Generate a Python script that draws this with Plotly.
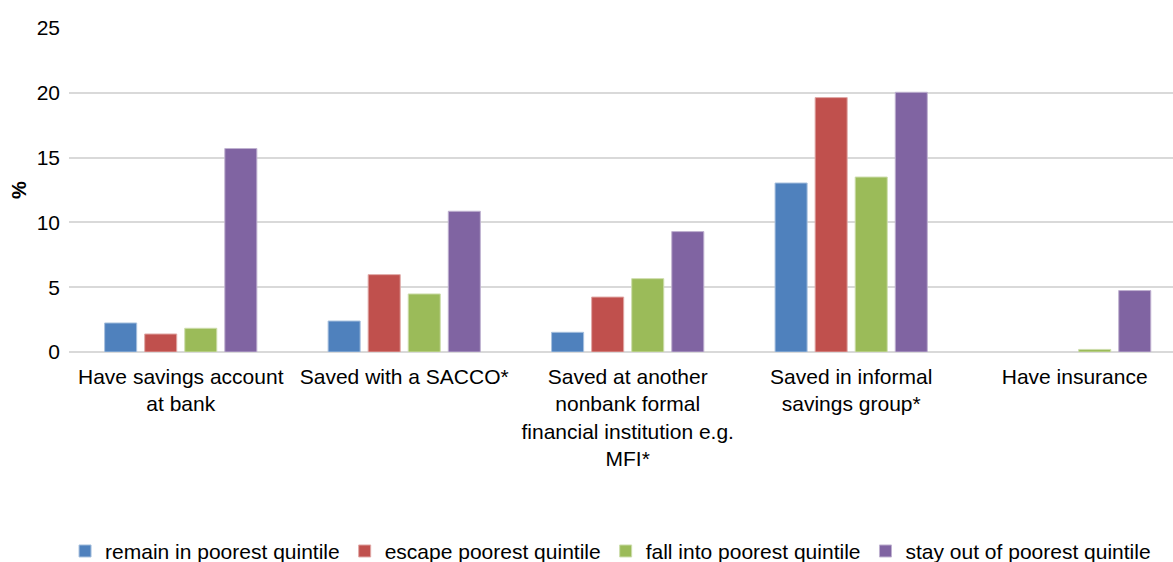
import plotly.graph_objects as go

# Category labels (line breaks as shown under each group)
categories = [
    "Have savings account<br>at bank",
    "Saved with a SACCO*",
    "Saved at another<br>nonbank formal<br>financial institution e.g.<br>MFI*",
    "Saved in informal<br>savings group*",
    "Have insurance",
]

# Share of households (%) by poverty-transition group
remain_poorest = [2.24, 2.39, 1.52, 13.04, None]
escape_poorest = [1.39, 5.97, 4.24, 19.63, None]
fall_into_poorest = [1.83, 4.48, 5.66, 13.5, 0.2]
stay_out_poorest = [15.7, 10.86, 9.29, 20.04, 4.74]

series_names = [
    "remain in poorest quintile",
    "escape poorest quintile",
    "fall into poorest quintile",
    "stay out of poorest quintile",
]
series_values = [remain_poorest, escape_poorest, fall_into_poorest, stay_out_poorest]
colors = ["#4F81BD", "#C0504D", "#9BBB59", "#8064A2"]
edge_colors = ["#A7C0DE", "#E0A8A6", "#CDDDAC", "#BFB1D0"]

x_idx = list(range(len(categories)))

fig = go.Figure()
for name, vals, c, ec in zip(series_names, series_values, colors, edge_colors):
    fig.add_trace(go.Bar(
        x=x_idx, y=vals, name=name,
        marker=dict(color=c, line=dict(color=ec, width=1)),
    ))

font_family = "Arial, 'Liberation Sans', sans-serif"

fig.update_layout(
    width=1173, height=562,
    margin=dict(l=69, r=0, t=28, b=210),
    paper_bgcolor="white", plot_bgcolor="white",
    barmode="group", bargap=0.283, bargroupgap=0.2,
    font=dict(family=font_family, size=21, color="#000000"),
    showlegend=True,
    legend=dict(
        orientation="h", xref="container", yref="container",
        x=0.5205, xanchor="center", y=0.019, yanchor="middle",
        font=dict(size=21), traceorder="normal",
        itemwidth=30, tracegroupgap=0,
    ),
)

fig.update_xaxes(
    tickmode="array", tickvals=x_idx, ticktext=categories,
    range=[-0.5, 4.44], showgrid=False, showline=False, zeroline=False,
    ticks="", tickfont=dict(size=21), ticklabelstandoff=10,
)

fig.update_yaxes(
    range=[0, 25], tick0=0, dtick=5,
    showgrid=True, gridcolor="#D9D9D9", gridwidth=1.5,
    zeroline=True, zerolinecolor="#D9D9D9", zerolinewidth=1.5,
    showline=False, ticks="", tickfont=dict(size=21), ticklabelstandoff=8,
    title=dict(text="<b>%</b>", font=dict(size=20), standoff=4),
)

fig.write_html("out.html")
